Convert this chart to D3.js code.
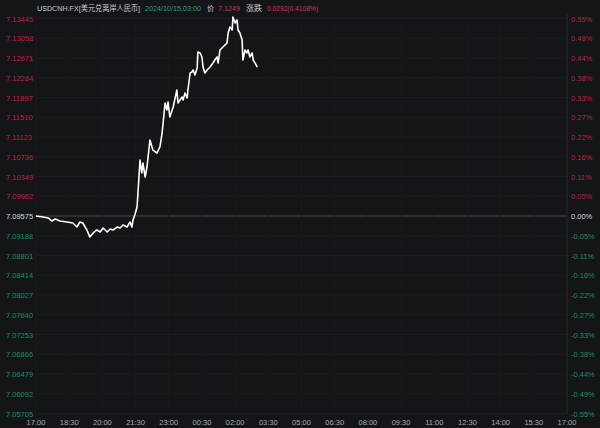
<!DOCTYPE html>
<html><head><meta charset="utf-8">
<script src="https://cdn.jsdelivr.net/npm/d3@7"></script>
<style>
html,body{margin:0;padding:0;background:#141519;}
svg{display:block;}
text{font-family:"Liberation Sans","Noto Sans CJK SC",sans-serif;}
</style></head>
<body>
<svg id="chart" width="600" height="428"></svg>
<script>
// ---- data ----
const title = "USDCNH.FX[美元兑离岸人民币]";
const stampText = "2024/10/15,03:00";
const priceLabel = "价";
const priceText = "7.1249";
const changeLabel = "涨跌";
const changeText = "0.0292(0.4108%)";
const basePrice = 7.09575;
// minutes after 17:00
const minutes = [0,19,33,43,52,65,84,100,111,119,127,138,146,155,165,174,182,193,201,209,220,228,236,247,255,260,263,268,274,277,282,287,290,296,301,309,317,328,336,342,350,355,358,363,372,382,385,396,399,404,410,412,418,423,426,431,437,439,445,450,453,458,464,472,480,485,491,494,499,507,518,521,526,532,534,540,545,548,553,559,561,567,572,575,580,586,589,594,600];
const prices = [7.09575,7.09555,7.09536,7.09477,7.09516,7.09477,7.09457,7.09438,7.09359,7.09457,7.09438,7.09301,7.09163,7.09242,7.09301,7.09261,7.09340,7.09261,7.09320,7.09301,7.09359,7.09340,7.09399,7.09359,7.09457,7.09359,7.09497,7.09595,7.09751,7.10084,7.10672,7.10418,7.10614,7.10339,7.10535,7.11064,7.10868,7.10809,7.10927,7.11201,7.11789,7.11652,7.11809,7.11515,7.11711,7.12044,7.11789,7.11907,7.11848,7.11985,7.11887,7.12044,7.12377,7.12397,7.12436,7.12338,7.12475,7.12789,7.12769,7.12691,7.12495,7.12377,7.12436,7.12495,7.12573,7.12632,7.12691,7.12573,7.12828,7.12887,7.12965,7.13161,7.13278,7.13220,7.13474,7.13357,7.13416,7.13220,7.13161,7.13024,7.12632,7.12828,7.12769,7.12828,7.12691,7.12769,7.12632,7.12573,7.12490];
const priceTicks = [7.13445,7.13058,7.12671,7.12284,7.11897,7.11510,7.11123,7.10736,7.10349,7.09962,7.09575,7.09188,7.08801,7.08414,7.08027,7.07640,7.07253,7.06866,7.06479,7.06092,7.05705];
const pctTicks = ["0.55%","0.49%","0.44%","0.38%","0.33%","0.27%","0.22%","0.16%","0.11%","0.05%","0.00%","-0.05%","-0.11%","-0.16%","-0.22%","-0.27%","-0.33%","-0.38%","-0.44%","-0.49%","-0.55%"];
const timeTickMinutes = [0,90,180,270,360,450,540,630,720,810,900,990,1080,1170,1260,1350,1440];
const timeTickLabels = ["17:00","18:30","20:00","21:30","23:00","00:30","02:00","03:30","05:00","06:30","08:00","09:30","11:00","12:30","14:00","15:30","17:00"];

// ---- drawing ----
const svg = d3.select("#chart");
const RED = "#c0203e", GREEN = "#1f8d5f", GRAY = "#a9abb0";
const x = d3.scaleLinear().domain([0,1440]).range([36,567]);
const y = d3.scaleLinear().domain([7.05705,7.13445]).range([413.5,18.5]);

svg.append("rect").attr("width",600).attr("height",428).attr("fill","#141519");

// grid
const grid = svg.append("g");
grid.selectAll("line.h").data(priceTicks).join("line")
  .attr("x1",36).attr("x2",567)
  .attr("y1",d=>y(d)).attr("y2",d=>y(d))
  .attr("stroke",d=>d===basePrice?"#4a4b50":"#1b1c21")
  .attr("stroke-width",1);
grid.selectAll("line.v").data(timeTickMinutes).join("line")
  .attr("x1",d=>x(d)).attr("x2",d=>x(d))
  .attr("y1",14).attr("y2",414)
  .attr("stroke",d=>d===1440?"#26272c":"#18191e")
  .attr("stroke-width",1);

// left axis
svg.append("g").selectAll("text").data(priceTicks).join("text")
  .attr("x",6).attr("y",d=>y(d)+3)
  .attr("font-size",7.5)
  .attr("fill",d=>d>basePrice+1e-9?RED:(d<basePrice-1e-9?GREEN:"#d8d8d8"))
  .text(d=>d.toFixed(5));

// right axis
svg.append("g").selectAll("text").data(priceTicks).join("text")
  .attr("x",571).attr("y",d=>y(d)+3)
  .attr("font-size",7.5)
  .attr("fill",d=>d>basePrice+1e-9?RED:(d<basePrice-1e-9?GREEN:"#d8d8d8"))
  .text((d,i)=>pctTicks[i]);

// bottom axis
svg.append("g").selectAll("text").data(timeTickMinutes).join("text")
  .attr("x",d=>x(d)).attr("y",425)
  .attr("text-anchor","middle")
  .attr("font-size",7.5)
  .attr("fill",GRAY)
  .text((d,i)=>timeTickLabels[i]);

// line
const pts = minutes.map((m,i)=>[m,prices[i]]);
svg.append("path").datum(pts)
  .attr("fill","none").attr("stroke","#ffffff").attr("stroke-width",1.6)
  .attr("stroke-linejoin","round")
  .attr("d",d3.line().x(d=>x(d[0])).y(d=>y(d[1])));

// header
const header = [
  {t:title, x:37, w:103, c:"#c9cacd"},
  {t:stampText, x:145, w:56, c:"#26a06b"},
  {t:priceLabel, x:207, w:7, c:"#c9cacd"},
  {t:priceText, x:218, w:22, c:"#d8304a"},
  {t:changeLabel, x:246, w:16, c:"#c9cacd"},
  {t:changeText, x:267, w:51, c:"#d8304a"}
];
svg.append("g").selectAll("text").data(header).join("text")
  .attr("x",d=>d.x).attr("y",11).attr("font-size",7.5)
  .attr("fill",d=>d.c)
  .attr("textLength",d=>d.w).attr("lengthAdjust","spacingAndGlyphs")
  .text(d=>d.t);
</script>
</body></html>
